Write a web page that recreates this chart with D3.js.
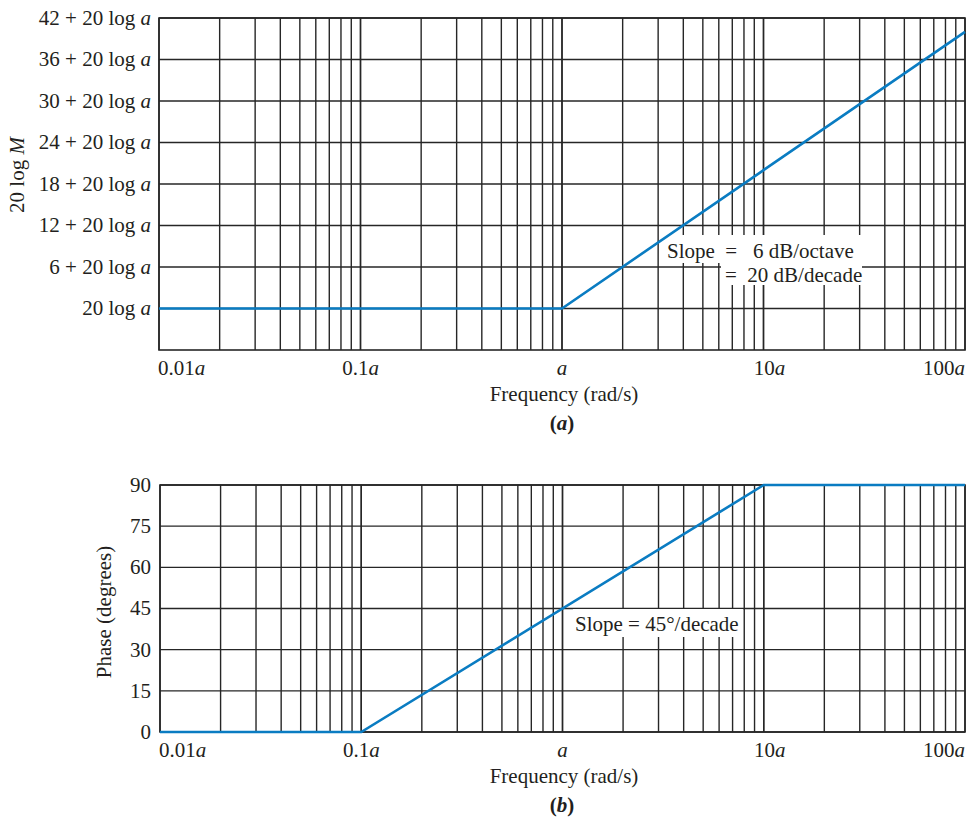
<!DOCTYPE html>
<html><head><meta charset="utf-8">
<script src="https://cdn.jsdelivr.net/npm/d3@7"></script>
<style>
body{margin:0;background:#fff;}
svg text{font-family:"Liberation Serif","Times New Roman",serif;fill:#231f20;}
</style></head>
<body><svg id="c" width="966" height="821"></svg>
<script>
// ---- data ----
const xTicks = [0.01, 0.1, 1, 10, 100];
const xTickPrefix = ["0.01", "0.1", "", "10", "100"];
const magTicks = [0, 6, 12, 18, 24, 30, 36, 42];
const magTickPrefix = ["", "6 + ", "12 + ", "18 + ", "24 + ", "30 + ", "36 + ", "42 + "];
const magFreq = [0.01, 1, 100];
const magValue = [0, 0, 40];
const phaseTicks = [0, 15, 30, 45, 60, 75, 90];
const phaseFreq = [0.01, 0.1, 10, 100];
const phaseValue = [0, 0, 90, 90];

const svg = d3.select("#c");
const gridColor = "#262626", lineColor = "#0a7cc2";
const FS = 21;

function minorValues(){
  const v=[];
  for(let e=-2;e<2;e++) for(let k=1;k<=10;k++) v.push(k*Math.pow(10,e));
  return v;
}

function panel(opt){
  const x = d3.scaleLog().domain([0.01,100]).range([opt.left, 965]);
  const y = d3.scaleLinear().domain(opt.yDomain).range([opt.bottom, opt.top]);
  const g = svg.append("g");
  g.selectAll("line.v").data(minorValues()).join("line")
    .attr("x1",d=>x(d)).attr("x2",d=>x(d)).attr("y1",opt.top).attr("y2",opt.bottom)
    .attr("stroke",gridColor).attr("stroke-width",1.4);
  g.selectAll("line.h").data(opt.yTicks).join("line")
    .attr("x1",opt.left).attr("x2",965).attr("y1",d=>y(d)).attr("y2",d=>y(d))
    .attr("stroke",gridColor).attr("stroke-width",1.4);
  g.append("rect").attr("x",opt.left).attr("y",opt.top).attr("width",965-opt.left).attr("height",opt.bottom-opt.top)
    .attr("fill","none").attr("stroke",gridColor).attr("stroke-width",1.6);
  opt.boxes.forEach(b=>g.append("rect").attr("x",b[0]).attr("y",b[1]).attr("width",b[2]).attr("height",b[3]).attr("fill","#fff"));
  const line = d3.line().x(d=>x(d[0])).y(d=>y(d[1]));
  g.append("path").datum(opt.xs.map((f,i)=>[f,opt.ys[i]])).attr("d",line)
    .attr("fill","none").attr("stroke",lineColor).attr("stroke-width",2.6);
  opt.yTicks.forEach((t,i)=>{
    const tx = g.append("text").attr("x",151).attr("y",y(t)).attr("dy","0.33em")
      .attr("text-anchor","end").attr("font-size",FS);
    opt.yLabel(tx,i);
  });
  xTicks.forEach((t,i)=>{
    const anchor = i===0?"start":(i===xTicks.length-1?"end":"middle");
    const xx = i===0?opt.left-1:(i===xTicks.length-1?965:x(t)+(i===3?6:0));
    const tx = g.append("text").attr("x",xx).attr("y",opt.bottom+25).attr("text-anchor",anchor).attr("font-size",FS);
    tx.append("tspan").text(xTickPrefix[i]);
    tx.append("tspan").attr("font-style","italic").text("a");
  });
  g.append("text").attr("x",564).attr("y",opt.bottom+51).attr("text-anchor","middle").attr("font-size",FS).text("Frequency (rad/s)");
  const cap = g.append("text").attr("x",562).attr("y",opt.bottom+80).attr("text-anchor","middle").attr("font-size",FS).attr("font-weight","bold");
  cap.append("tspan").text("(");
  cap.append("tspan").attr("font-style","italic").text(opt.cap);
  cap.append("tspan").text(")");
  return {x,y,g};
}

const p1 = panel({left:159, top:18, bottom:350, yDomain:[-6,42], yTicks:magTicks,
  xs:magFreq, ys:magValue, cap:"a",
  boxes:[[663,235,198,28],[721,262,141,23]],
  yLabel:(tx,i)=>{ tx.append("tspan").text(magTickPrefix[i]+"20 log "); tx.append("tspan").attr("font-style","italic").text("a"); }});
const yl1 = p1.g.append("text").attr("transform","translate(24,175) rotate(-90)").attr("text-anchor","middle").attr("font-size",FS);
yl1.append("tspan").text("20 log ");
yl1.append("tspan").attr("font-style","italic").text("M");
p1.g.append("text").attr("x",667).attr("y",258).attr("font-size",FS).attr("xml:space","preserve").text("Slope  =   6 dB/octave");
p1.g.append("text").attr("x",725).attr("y",282).attr("font-size",FS).attr("xml:space","preserve").text("=  20 dB/decade");

const p2 = panel({left:160, top:485, bottom:732, yDomain:[0,90], yTicks:phaseTicks,
  xs:phaseFreq, ys:phaseValue, cap:"b",
  boxes:[[573,609,170,28]],
  yLabel:(tx,i)=>{ tx.text(phaseTicks[i]); }});
p2.g.append("text").attr("transform","translate(111,612) rotate(-90)").attr("text-anchor","middle").attr("font-size",FS).text("Phase (degrees)");
p2.g.append("text").attr("x",575).attr("y",631).attr("font-size",FS).text("Slope = 45°/decade");
</script></body></html>
